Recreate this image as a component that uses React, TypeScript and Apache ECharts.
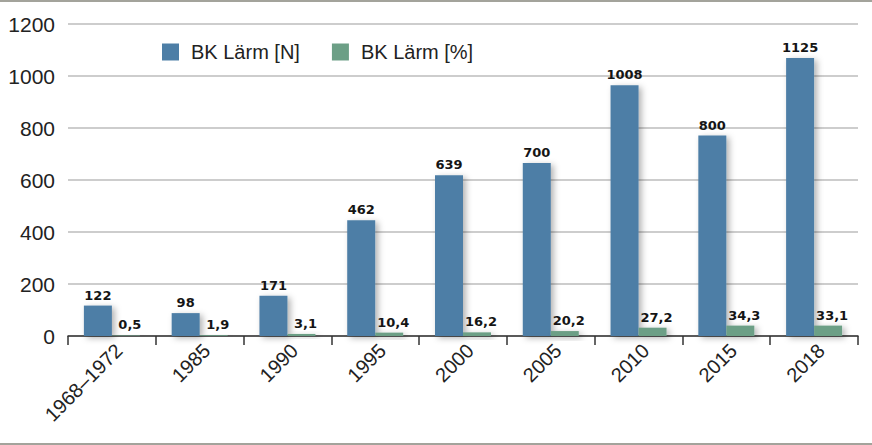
import { useEffect, useRef } from 'react';
import * as echarts from 'echarts';

const categories = ['1968–1972', '1985', '1990', '1995', '2000', '2005', '2010', '2015', '2018'];
// bar heights as drawn in the picture
const countValues = [117, 88, 155, 445, 618, 665, 964, 771, 1069];
const percentValues = [2, 3, 8, 13, 14, 19, 32, 40, 40];
// labels printed above the bars
const countLabels = ['122', '98', '171', '462', '639', '700', '1008', '800', '1125'];
const percentLabels = ['0,5', '1,9', '3,1', '10,4', '16,2', '20,2', '27,2', '34,3', '33,1'];
const yTicks = [0, 200, 400, 600, 800, 1000, 1200];

const BLUE = '#4d7ea6';
const GREEN = '#6c9f86';
const FONT = 'Liberation Sans, Arial, sans-serif';

const App = () => {
  const chartRef = useRef<HTMLDivElement>(null);

  useEffect(() => {
    if (!chartRef.current) return;
    const chart = echarts.init(chartRef.current, undefined, { renderer: 'svg' });

    const shadow = {
      shadowBlur: 6,
      shadowOffsetX: 3,
      shadowOffsetY: 2,
      shadowColor: 'rgba(0,0,0,0.3)'
    };
    const labelStyle = {
      show: true,
      position: 'top' as const,
      distance: 4,
      color: '#151515',
      fontSize: 13,
      fontWeight: 'bold' as const,
      fontFamily: 'DejaVu Sans, sans-serif'
    };

    const option: echarts.EChartsOption = {
      animation: false,
      backgroundColor: '#fff',
      textStyle: { fontFamily: FONT },
      grid: { left: 68, right: 14, top: 24, bottom: 109, containLabel: false },
      legend: {
        left: 162,
        top: 42,
        padding: 0,
        itemWidth: 17,
        itemHeight: 17,
        itemGap: 32,
        icon: 'rect',
        textStyle: { fontSize: 20, color: '#222', fontFamily: FONT, padding: [0, 0, 0, 7] },
        data: ['BK Lärm [N]', 'BK Lärm [%]']
      },
      xAxis: {
        type: 'category',
        data: categories,
        axisLine: { lineStyle: { color: '#333', width: 1.5 } },
        axisTick: { show: true, length: 9, lineStyle: { color: '#333', width: 1.5 } },
        axisLabel: {
          rotate: 45,
          fontSize: 20,
          color: '#222',
          margin: 4,
          verticalAlign: 'top',
          fontFamily: FONT
        }
      },
      yAxis: {
        type: 'value',
        min: yTicks[0],
        max: yTicks[yTicks.length - 1],
        interval: 200,
        axisLine: { show: false },
        axisTick: { show: false },
        axisLabel: {
          fontSize: 21,
          color: '#222',
          margin: 13,
          fontFamily: FONT,
          formatter: (v: number) => String(v)
        },
        splitLine: { lineStyle: { color: '#bdbdbd', width: 1.5 } }
      },
      series: [
        {
          name: 'BK Lärm [N]',
          type: 'bar',
          data: countValues,
          barWidth: 28,
          barGap: '0%',
          itemStyle: { color: BLUE, ...shadow },
          label: { ...labelStyle, formatter: (p: any) => countLabels[p.dataIndex] }
        },
        {
          name: 'BK Lärm [%]',
          type: 'bar',
          data: percentValues,
          barWidth: 28,
          barGap: '0%',
          itemStyle: { color: GREEN, ...shadow },
          label: { ...labelStyle, offset: [4, 0], formatter: (p: any) => percentLabels[p.dataIndex] }
        }
      ],
      graphic: [
        { type: 'rect', left: 0, top: 0, shape: { width: 872, height: 2 }, style: { fill: '#a3a39b' }, silent: true },
        { type: 'rect', left: 0, top: 443, shape: { width: 872, height: 2 }, style: { fill: '#a3a39b' }, silent: true }
      ]
    };

    chart.setOption(option);

    return () => {
      chart.dispose();
    };
  }, []);

  return (
    <div
      ref={chartRef}
      style={{ position: 'fixed', left: 0, top: 0, width: 872, height: 445 }}
    />
  );
};

export default App;
